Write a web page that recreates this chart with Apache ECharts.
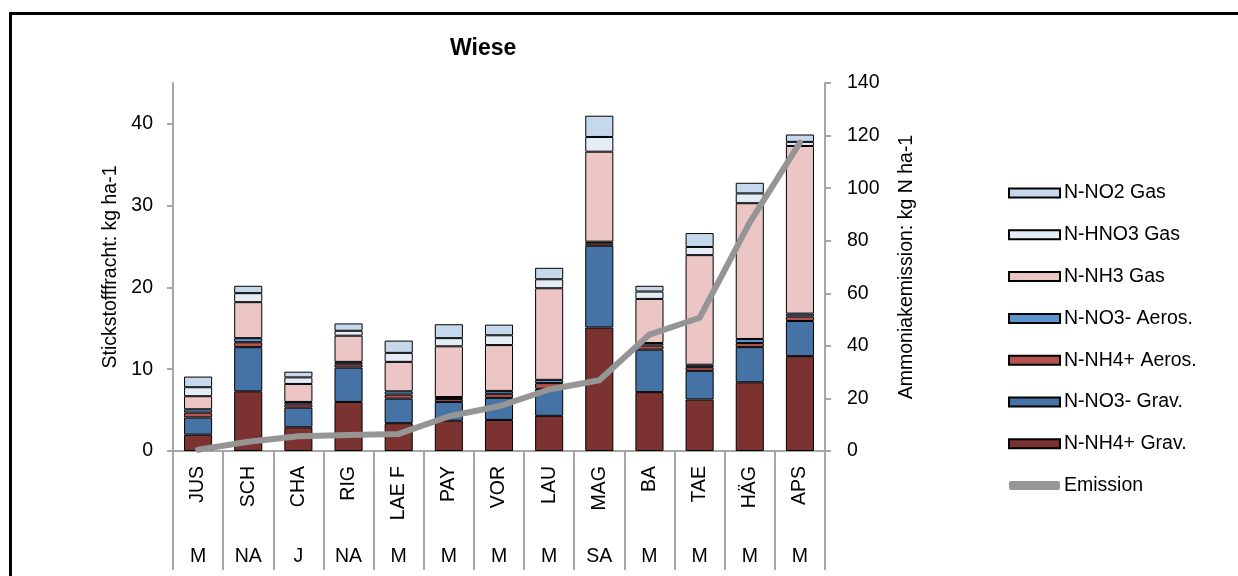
<!DOCTYPE html>
<html>
<head>
<meta charset="utf-8">
<script src="https://cdn.jsdelivr.net/npm/echarts@6/dist/echarts.min.js"></script>
<style>
  html, body { margin: 0; padding: 0; background: #fff; }
  #chart { position: absolute; left: 0; top: 0; width: 1238px; height: 576px; }
  #frame { position: absolute; left: 9px; top: 12px; width: 1240px; height: 600px;
           border-left: 3px solid #000; border-top: 3px solid #000; pointer-events: none; }
</style>
</head>
<body>
<div id="chart"></div>
<div id="frame"></div>
<script>
// ---- data ----
const categories = ['JUS', 'SCH', 'CHA', 'RIG', 'LAE F', 'PAY', 'VOR', 'LAU', 'MAG', 'BA', 'TAE', 'HÄG', 'APS'];
const groups     = ['M', 'NA', 'J', 'NA', 'M', 'M', 'M', 'M', 'SA', 'M', 'M', 'M', 'M'];

const nh4Grav  = [2.0, 7.3, 2.9, 6.0, 3.4, 3.7, 3.8, 4.3, 15.1, 7.2, 6.3, 8.4, 11.6];
const no3Grav  = [2.1, 5.4, 2.4, 4.2, 3.0, 2.3, 2.7, 3.3, 10.0, 5.2, 3.5, 4.3, 4.3];
const nh4Aeros = [0.6, 0.6, 0.4, 0.4, 0.5, 0.35, 0.5, 0.7, 0.3, 0.5, 0.45, 0.5, 0.55];
const no3Aeros = [0.4, 0.5, 0.3, 0.3, 0.4, 0.25, 0.35, 0.4, 0.2, 0.3, 0.3, 0.5, 0.35];
const nh3Gas   = [1.6, 4.4, 2.2, 3.2, 3.6, 6.2, 5.6, 11.2, 11.0, 5.4, 13.4, 16.6, 20.5];
const hno3Gas  = [1.1, 1.1, 0.8, 0.6, 1.1, 1.0, 1.2, 1.1, 1.8, 0.9, 1.0, 1.2, 0.5];
const no2Gas   = [1.3, 0.9, 0.7, 0.9, 1.5, 1.7, 1.3, 1.4, 2.6, 0.7, 1.7, 1.3, 0.9];
const emission = [0.5, 3.5, 5.6, 6.1, 6.5, 13.2, 17.0, 23.4, 26.9, 44.3, 50.7, 87.0, 117.3];

const leftTicks  = [0, 10, 20, 30, 40];
const rightTicks = [0, 20, 40, 60, 80, 100, 120, 140];

// ---- font detection ----
function hasFont(name) {
  const c = document.createElement('canvas').getContext('2d');
  const s = 'abcdefghijklmnopqrstuvwxyz0123456789';
  c.font = '24px monospace';
  const w0 = c.measureText(s).width;
  c.font = "24px '" + name + "', monospace";
  return c.measureText(s).width !== w0;
}
const narrow = hasFont('Liberation Sans Narrow');
const FONT = narrow ? "'Liberation Sans Narrow', 'Liberation Sans', Arial, sans-serif"
                    : "'Liberation Sans', Arial, sans-serif";
const FS = narrow ? 24 : 19.5;
const TFS = narrow ? 28 : 23;

const axisGray = '#a6a6a6';
const txt = { color: '#000', fontFamily: FONT, fontSize: FS };

const barDefs = [
  ['N-NH4+ Grav.',  nh4Grav,  '#7b3230'],
  ['N-NO3- Grav.',  no3Grav,  '#4573a5'],
  ['N-NH4+ Aeros.', nh4Aeros, '#b4534d'],
  ['N-NO3- Aeros.', no3Aeros, '#5b93cf'],
  ['N-NH3 Gas',     nh3Gas,   '#ecc6c5'],
  ['N-HNO3 Gas',    hno3Gas,  '#e4ecf6'],
  ['N-NO2 Gas',     no2Gas,   '#c5d8ec']
];

const series = barDefs.map(([name, data, color]) => ({
  name, type: 'bar', stack: 'total', data, barWidth: '56%',
  yAxisIndex: 0, xAxisIndex: 0,
  itemStyle: { color, borderColor: '#000', borderWidth: 1 },
  emphasis: { disabled: true }
}));
series.push({
  name: 'Emission', type: 'line', data: emission, yAxisIndex: 1, xAxisIndex: 0,
  showSymbol: false, symbol: 'none', color: '#959595',
  lineStyle: { color: '#959595', width: 6, cap: 'round', join: 'round' },
  itemStyle: { color: '#959595' },
  z: 5
});

const chart = echarts.init(document.getElementById('chart'), null, { renderer: 'canvas' });
chart.setOption({
  animation: false,
  backgroundColor: '#fff',
  textStyle: { fontFamily: FONT },
  title: {
    text: 'Wiese', left: 450, top: 37, padding: 0,
    textStyle: { fontFamily: FONT, fontSize: TFS, fontWeight: 'bold', color: '#000' }
  },
  grid: { left: 173, right: 413, top: 83, bottom: 125, containLabel: false },
  legend: {
    orient: 'vertical', left: 1003, top: 176, itemGap: 17.8,
    itemWidth: 51, itemHeight: 9, icon: 'rect',
    textStyle: Object.assign({}, txt, { lineHeight: 24, padding: [0, 0, 0, -1] }),
    data: ['N-NO2 Gas', 'N-HNO3 Gas', 'N-NH3 Gas', 'N-NO3- Aeros.', 'N-NH4+ Aeros.', 'N-NO3- Grav.', 'N-NH4+ Grav.',
           { name: 'Emission', icon: 'roundRect', itemStyle: { borderWidth: 0 } }]
  },
  xAxis: [
    {
      type: 'category', data: categories, position: 'bottom',
      axisLine: { show: true, lineStyle: { color: axisGray, width: 2 } },
      axisTick: { show: true, alignWithLabel: false, length: 119, lineStyle: { color: axisGray, width: 2 } },
      axisLabel: Object.assign({}, txt, { rotate: 90, margin: 15, interval: 0 }),
      splitLine: { show: false }
    },
    {
      type: 'category', data: groups, position: 'bottom', gridIndex: 0,
      axisLine: { show: false }, axisTick: { show: false },
      axisLabel: Object.assign({}, txt, { margin: 96, interval: 0 }),
      splitLine: { show: false }
    }
  ],
  yAxis: [
    {
      type: 'value', min: 0, max: 45, interval: 10, position: 'left',
      name: 'Stickstofffracht: kg ha-1', nameLocation: 'middle', nameGap: 50, nameRotate: 90,
      nameTextStyle: txt,
      axisLine: { show: true, lineStyle: { color: axisGray, width: 2 } },
      axisTick: { show: true, length: 6, lineStyle: { color: axisGray, width: 2 }, customValues: leftTicks },
      axisLabel: Object.assign({}, txt, { margin: 20, customValues: leftTicks }),
      splitLine: { show: false }
    },
    {
      type: 'value', min: 0, max: 140, interval: 20, position: 'right',
      name: 'Ammoniakemission: kg N ha-1', nameLocation: 'middle', nameGap: 72, nameRotate: 90,
      nameTextStyle: txt,
      axisLine: { show: true, lineStyle: { color: axisGray, width: 2 } },
      axisTick: { show: true, length: 6, lineStyle: { color: axisGray, width: 2 }, customValues: rightTicks },
      axisLabel: Object.assign({}, txt, { margin: 22, customValues: rightTicks }),
      splitLine: { show: false }
    }
  ],
  series
});
</script>
</body>
</html>
